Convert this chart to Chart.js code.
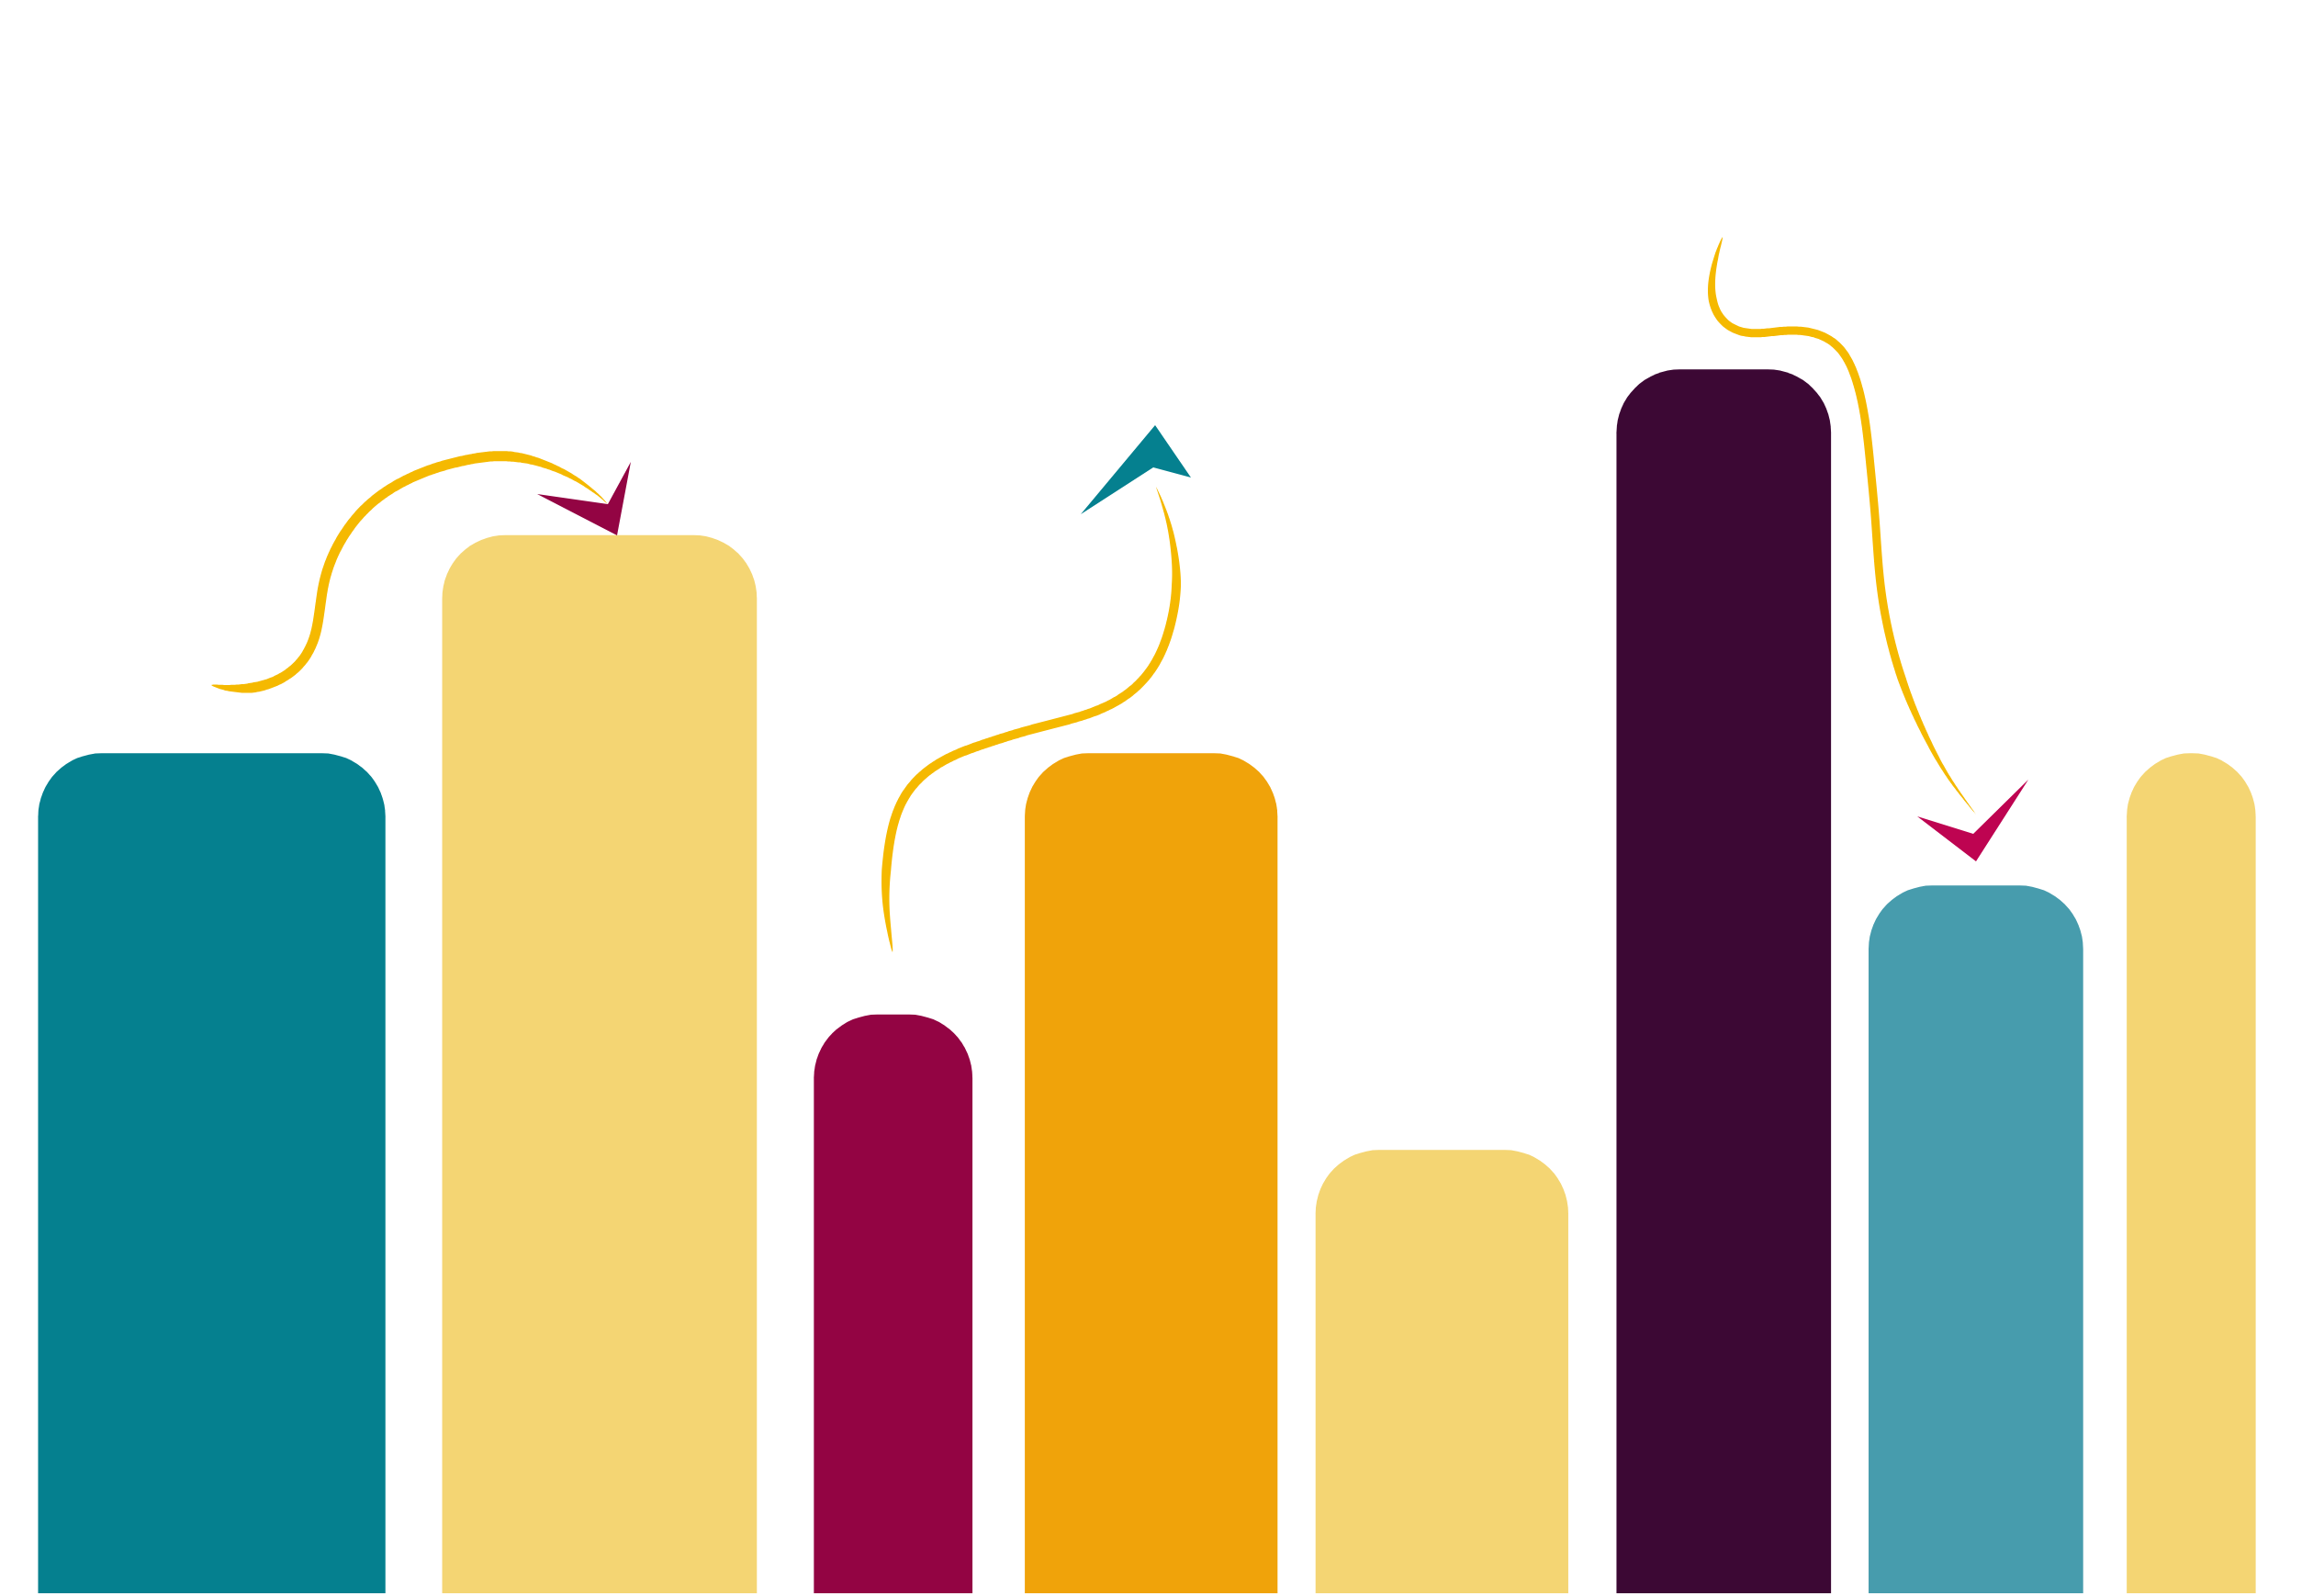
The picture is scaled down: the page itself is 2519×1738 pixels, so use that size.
<!DOCTYPE html>
<html>
<head>
<meta charset="utf-8">
<title>bars</title>
<script src="https://cdn.jsdelivr.net/npm/chart.js@4/dist/chart.umd.min.js"></script>
<style>
  html, body { margin: 0; padding: 0; background: #ffffff; }
  #wrap { width: 2519px; height: 1738px; position: relative; }
</style>
</head>
<body>
<div id="wrap"><canvas id="myChart"></canvas></div>
<script>
//------------------------------------------------------
// data
var categories = ['1', '2', '3', '4', '5', '6', '7', '8'];
var values     = [52.7, 66.4, 36.3, 52.7, 27.8, 76.8, 44.4, 52.7];

// colours of the bars
var barColors = ['#05808F', '#F4D573', '#930443', '#F0A30A', '#F4D573', '#3C0834', '#479CAD', '#F4D573'];

/// layout : where each bar sits on the x axis (0..100), [left, right]
var barSpans = [
  [1.66, 16.65], [19.13, 32.71], [35.20, 42.03], [44.32, 55.22],
  [56.89, 67.79], [69.90, 79.15], [80.80, 90.05], [91.96, 97.51]
];

//
// decorative arrows, drawn in the 2519x1738 design frame and mapped through the scales
var arrows = [
  { path: [[230,746],[268,751],[310,738],[336,712],[346,682],[350,648],[356,620],[368,593],[385,567],[409,543],[441,523],[482,507],[538,496],[577,500],[610,512],[640,529],[662,549]],
    head: [[585,538],[662,549],[687,503],[672,583]], headColor: '#930443', width: 11, tin: 45, tout: 120 },
  { path: [[972,1037],[964,966],[978,880],[1020,832],[1100,801],[1205,770],[1258,724],[1281,648],[1275,577],[1259,530]],
    head: [[1258,463],[1297,520],[1256,509],[1177,560]], headColor: '#05808F', width: 10, tin: 90, tout: 110 },
  { path: [[1876,258],[1864,300],[1868,342],[1900,364],[1957,359],[2002,375],[2027,433],[2040,538],[2050,653],[2073,745],[2113,832],[2152,887]],
    head: [[2152,938],[2088,889],[2149,908],[2209,849]], headColor: '#BE0451', width: 9, tin: 70, tout: 170 }
];

function catmull(pts, steps){
  var out = [];
  for (var i = 0; i < pts.length - 1; i++){
    var p0 = pts[Math.max(0, i-1)], p1 = pts[i], p2 = pts[i+1], p3 = pts[Math.min(pts.length-1, i+2)];
    for (var s = 0; s < steps; s++){
      var t = s / steps, t2 = t*t, t3 = t2*t;
      out.push([
        0.5*((2*p1[0]) + (-p0[0]+p2[0])*t + (2*p0[0]-5*p1[0]+4*p2[0]-p3[0])*t2 + (-p0[0]+3*p1[0]-3*p2[0]+p3[0])*t3),
        0.5*((2*p1[1]) + (-p0[1]+p2[1])*t + (2*p0[1]-5*p1[1]+4*p2[1]-p3[1])*t2 + (-p0[1]+3*p1[1]-3*p2[1]+p3[1])*t3)
      ]);
    }
  }
  out.push(pts[pts.length-1]);
  return out;
}

// resample at even spacing, then soften the kinks with a moving average
function smooth(pts, step, win){
  var even = [pts[0]], carry = 0;
  for (var i = 1; i < pts.length; i++){
    var a = pts[i-1], b = pts[i], d = Math.hypot(b[0]-a[0], b[1]-a[1]), pos = step - carry;
    while (pos <= d){
      even.push([a[0] + (b[0]-a[0])*pos/d, a[1] + (b[1]-a[1])*pos/d]);
      pos += step;
    }
    carry = d - (pos - step);
  }
  even.push(pts[pts.length-1]);
  var out = [];
  for (i = 0; i < even.length; i++){
    var k = Math.min(win, i, even.length-1-i), sx = 0, sy = 0;
    for (var j = i-k; j <= i+k; j++){ sx += even[j][0]; sy += even[j][1]; }
    out.push([sx/(2*k+1), sy/(2*k+1)]);
  }
  return out;
}

var arrowPlugin = {
  id: 'arrows',
  afterDatasetsDraw: function(chart){
    var ctx = chart.ctx, sx = chart.scales.x, sy = chart.scales.y;
    var kx = (sx.getPixelForValue(100) - sx.getPixelForValue(0)) / 2519;
    function map(p){
      return [sx.getPixelForValue(p[0] / 25.19), sy.getPixelForValue((1735 - p[1]) / 17.35)];
    }
    arrows.forEach(function(a){
      var pts = smooth(catmull(a.path.map(map), 30), 2 * kx, 12);
      // arc length
      var len = [0];
      for (var i = 1; i < pts.length; i++){
        len.push(len[i-1] + Math.hypot(pts[i][0]-pts[i-1][0], pts[i][1]-pts[i-1][1]));
      }
      var L = len[len.length-1];
      var left = [], right = [];
      for (i = 0; i < pts.length; i++){
        var a0 = pts[Math.max(0, i-2)], a1 = pts[Math.min(pts.length-1, i+2)];
        var dx = a1[0]-a0[0], dy = a1[1]-a0[1], d = Math.hypot(dx, dy) || 1;
        var nx = -dy/d, ny = dx/d;
        var w = a.width * kx * Math.pow(Math.min(1, len[i]/(a.tin*kx)), 0.6) * Math.pow(Math.min(1, (L-len[i])/(a.tout*kx)), 0.8);
        left.push([pts[i][0] + nx*w/2, pts[i][1] + ny*w/2]);
        right.push([pts[i][0] - nx*w/2, pts[i][1] - ny*w/2]);
      }
      ctx.save();
      ctx.fillStyle = '#F5B900';
      ctx.beginPath();
      ctx.moveTo(left[0][0], left[0][1]);
      for (i = 1; i < left.length; i++) ctx.lineTo(left[i][0], left[i][1]);
      for (i = right.length-1; i >= 0; i--) ctx.lineTo(right[i][0], right[i][1]);
      ctx.closePath();
      ctx.fill();
      // head
      var h = a.head.map(map);
      ctx.fillStyle = a.headColor;
      ctx.beginPath();
      ctx.moveTo(h[0][0], h[0][1]);
      for (i = 1; i < h.length; i++) ctx.lineTo(h[i][0], h[i][1]);
      ctx.closePath();
      ctx.fill();
      ctx.restore();
    });
  }
};

//
// one dataset per bar so every bar gets its own width
var datasets = [];
for (var i = 0; i < values.length; i++){
  (function(i){
    datasets.push({
      label: categories[i],
      data: [{ x: (barSpans[i][0] + barSpans[i][1]) / 2, y: values[i] }],
      backgroundColor: barColors[i],
      borderWidth: 0,
      borderSkipped: 'bottom',
      borderRadius: { topLeft: 69, topRight: 69, bottomLeft: 0, bottomRight: 0 },
      stack: 'bars',
      barThickness: function(c){
        var s = c.chart.scales.x;
        if (!s) return 10;
        return Math.abs(s.getPixelForValue(barSpans[i][1]) - s.getPixelForValue(barSpans[i][0]));
      }
    });
  })(i);
}

var ctx = document.getElementById('myChart').getContext('2d');
var myChart = new Chart(ctx, {
  type: 'bar',
  data: { datasets: datasets },
  options: {
    responsive: true,
    maintainAspectRatio: false,
    devicePixelRatio: 1,
    animation: false,
    layout: { padding: { top: 0, right: 0, bottom: 3, left: 0 } },
    plugins: { legend: { display: false }, tooltip: { enabled: false } },
    scales: {
      x: { type: 'linear', min: 0, max: 100, display: false, stacked: true, offset: false },
      y: { type: 'linear', min: 0, max: 100, display: false, stacked: false }
    }
  },
  plugins: [arrowPlugin]
});
</script>
</body>
</html>
